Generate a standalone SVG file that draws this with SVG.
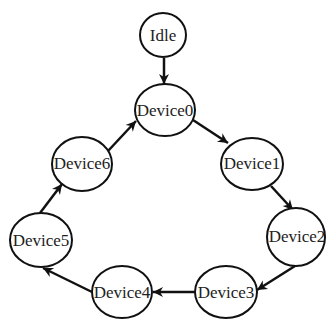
<svg xmlns="http://www.w3.org/2000/svg" width="326" height="320" viewBox="0 0 326 320">
  <style>
    .node ellipse { fill: #ffffff; stroke: #111111; stroke-width: 2; }
    .node text { font-family: 'Liberation Serif', 'Times New Roman', 'DejaVu Serif', serif; font-size: 17px; fill: #222222; text-anchor: middle; }
    .edge { stroke: #111111; stroke-width: 2.5; fill: none; marker-end: url(#arrow); }
  </style>
  <defs>
    <!-- barbed arrowhead shared by every connector -->
    <marker id="arrow" viewBox="0 0 12 12" refX="11" refY="6" markerWidth="12" markerHeight="12" markerUnits="userSpaceOnUse" orient="auto">
      <path d="M1,1 L11,6 L1,11 L4,6 Z" fill="#111111"/>
    </marker>
  </defs>
  <rect width="326" height="320" fill="#ffffff"/>

  <g id="connectors">
    <line class="edge" x1="164" y1="58" x2="164" y2="84"/>
    <line class="edge" x1="193" y1="120" x2="228" y2="143"/>
    <line class="edge" x1="271" y1="186" x2="293" y2="210"/>
    <line class="edge" x1="295" y1="266" x2="257" y2="290"/>
    <line class="edge" x1="195" y1="292" x2="153" y2="292"/>
    <line class="edge" x1="92" y1="292" x2="43" y2="268"/>
    <line class="edge" x1="40" y1="213" x2="62" y2="184"/>
    <line class="edge" x1="108" y1="151" x2="136" y2="121"/>
  </g>

  <g id="idle" class="node">
    <ellipse cx="163" cy="35" rx="23" ry="22"/>
    <text x="163" y="41">Idle</text>
  </g>
  <g id="device0" class="node">
    <ellipse cx="165" cy="110" rx="30" ry="26"/>
    <text x="165" y="116">Device0</text>
  </g>
  <g id="device1" class="node">
    <ellipse cx="252" cy="164" rx="31" ry="26"/>
    <text x="252" y="169">Device1</text>
  </g>
  <g id="device2" class="node">
    <ellipse cx="296" cy="237" rx="29" ry="29"/>
    <text x="297" y="242">Device2</text>
  </g>
  <g id="device3" class="node">
    <ellipse cx="226" cy="292" rx="31" ry="26"/>
    <text x="226" y="298">Device3</text>
  </g>
  <g id="device4" class="node">
    <ellipse cx="122" cy="292" rx="30" ry="26"/>
    <text x="122" y="298">Device4</text>
  </g>
  <g id="device5" class="node">
    <ellipse cx="41" cy="240" rx="31" ry="27"/>
    <text x="41" y="246">Device5</text>
  </g>
  <g id="device6" class="node">
    <ellipse cx="82" cy="164" rx="30" ry="27"/>
    <text x="82" y="169">Device6</text>
  </g>
</svg>
